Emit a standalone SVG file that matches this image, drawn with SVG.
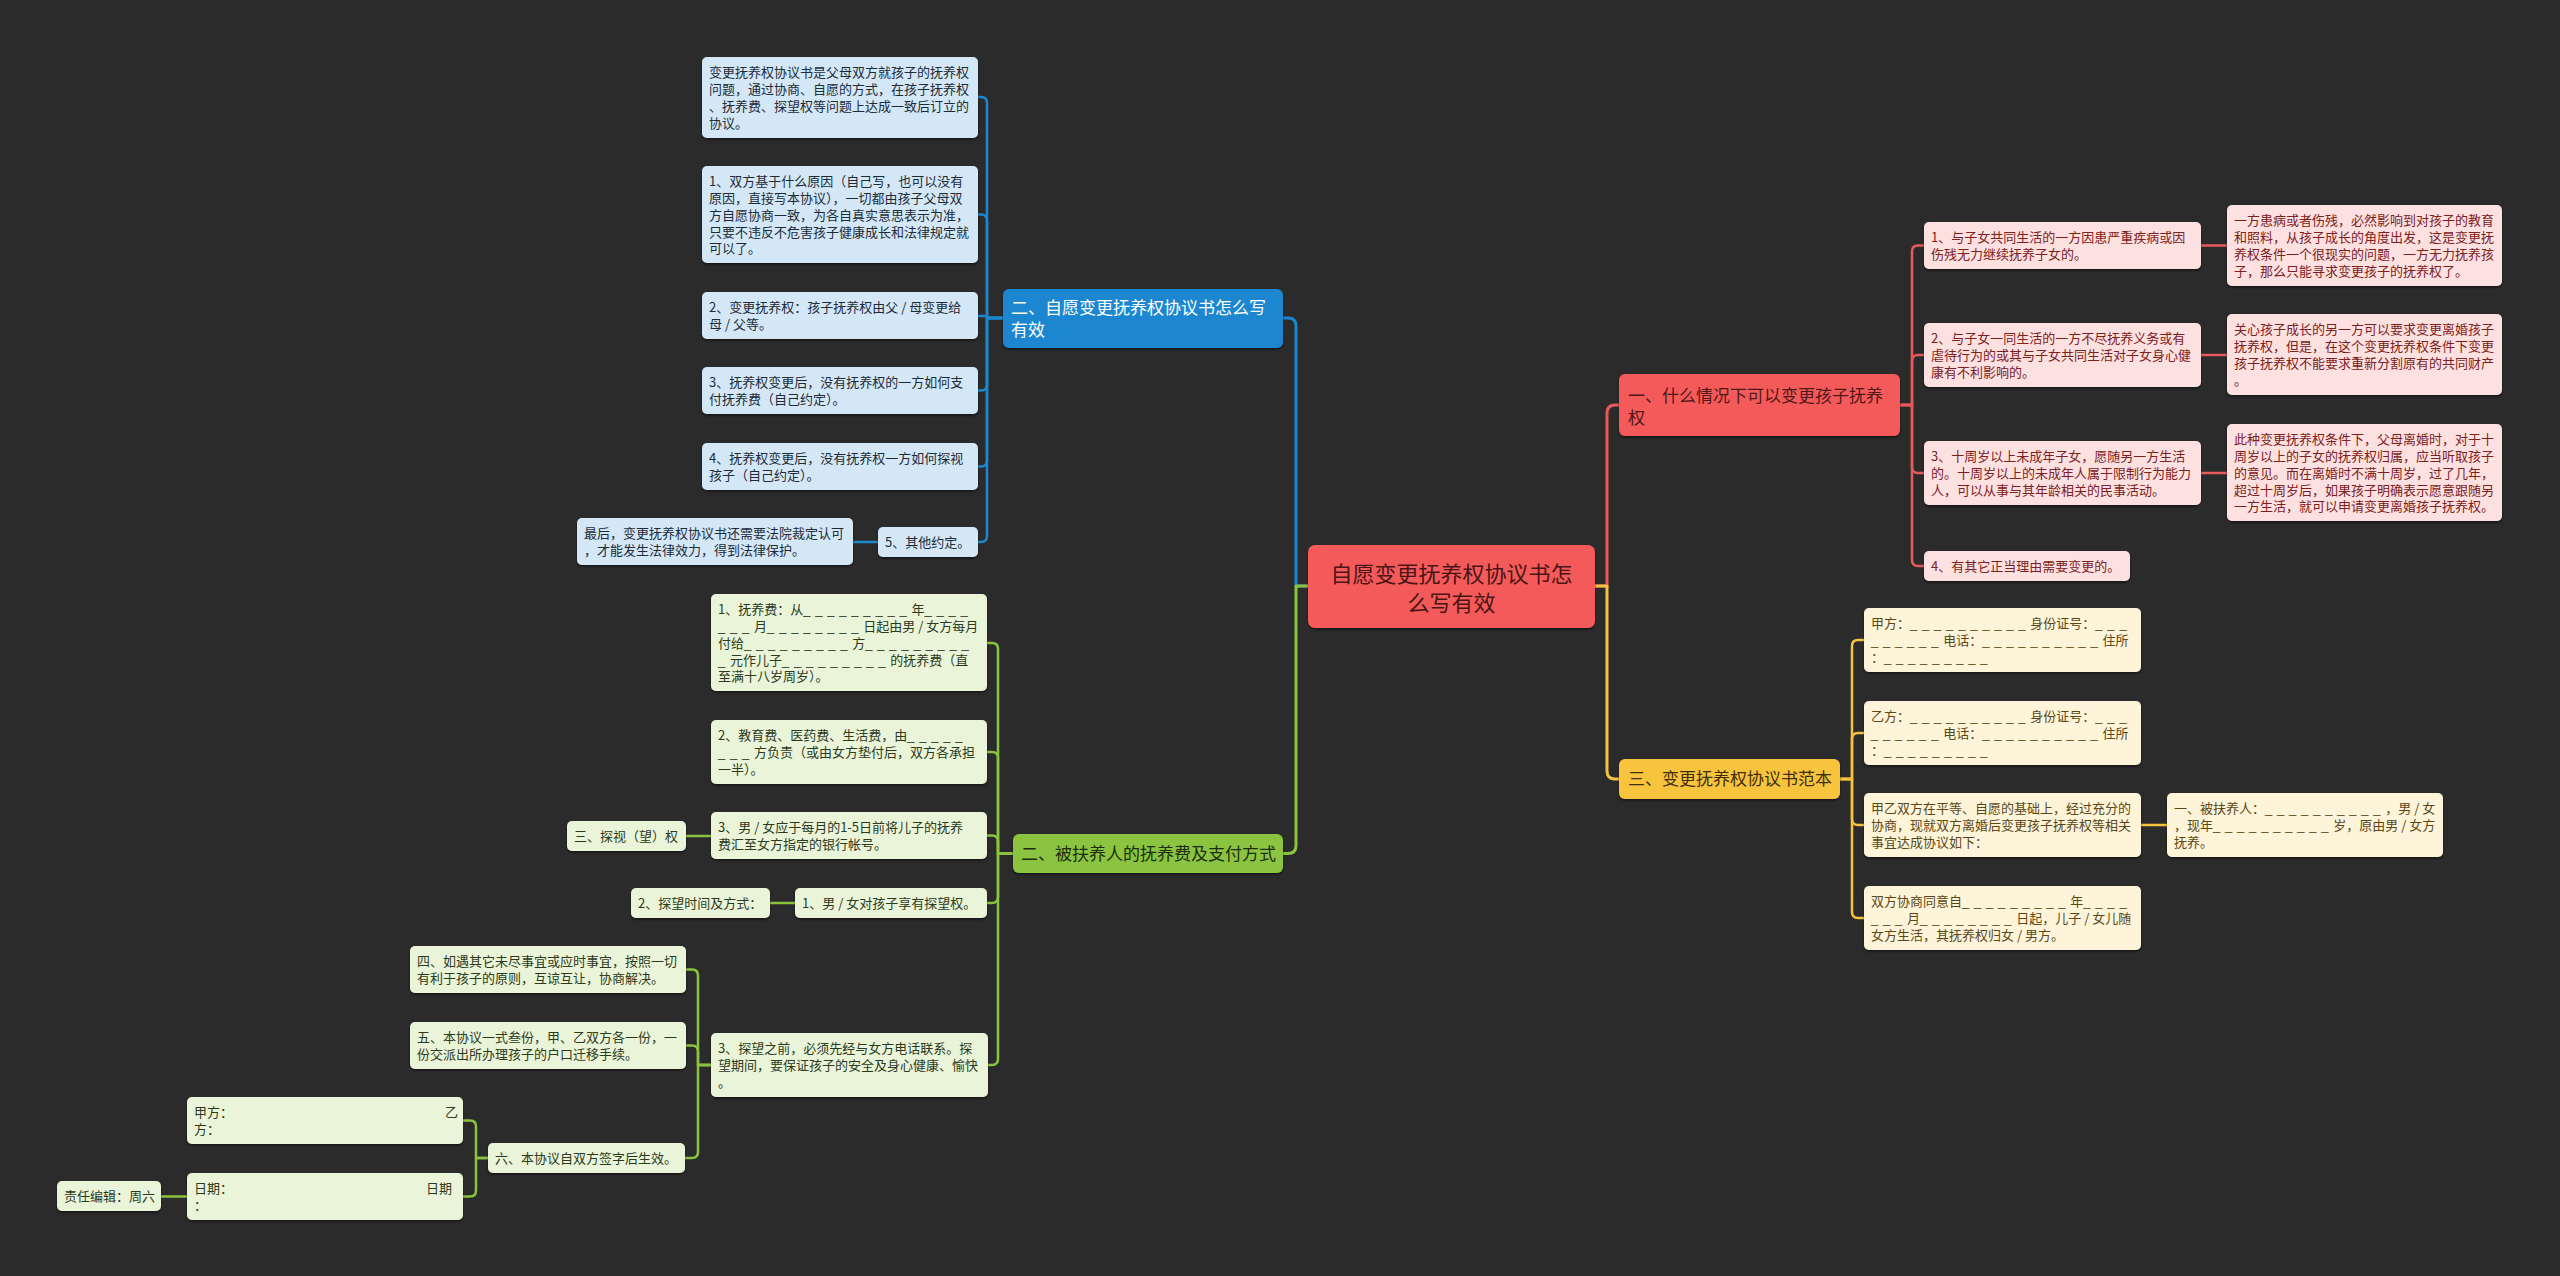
<svg xmlns="http://www.w3.org/2000/svg" width="2560" height="1276" viewBox="0 0 2560 1276">
<defs>
<filter id="sh" x="-5%" y="-10%" width="110%" height="130%">
<feDropShadow dx="0" dy="1.5" stdDeviation="1.2" flood-color="#000" flood-opacity="0.55"/>
</filter>
<style>
text{font-family:"Noto Sans CJK SC","Noto Sans",sans-serif;}
.lf{font-size:13px;}
.br{font-size:17px;}
.ct{font-size:22px;}
.u{font-family:"Liberation Sans",sans-serif;letter-spacing:4.8px;}
.node rect{filter:url(#sh);}
.c path{fill:none;stroke-width:2.5;stroke-linecap:round;stroke-linejoin:round;}
.cr{stroke:#e85a5a;} .cb{stroke:#1b87d0;} .cg{stroke:#8ac43f;} .cy{stroke:#f5c23e;}
.rL rect{fill:#fde1e1;} .rL text{fill:#7d2020;}
.bL rect{fill:#d3e7f6;} .bL text{fill:#1d2b38;}
.gL rect{fill:#eaf4d8;} .gL text{fill:#2b3a1c;}
.yL rect{fill:#fdf4d9;} .yL text{fill:#5b4716;}
</style>
</defs>
<rect x="0" y="0" width="2560" height="1276" fill="#2b2b2b"/>

<g id="connectors" class="c">
<path class="cb" style="stroke-width:3" d="M1308 586 H1296 V326 Q1296 318 1288 318 H1283"/>
<path class="cg" style="stroke-width:3" d="M1308 586 H1296 V845.5 Q1296 853.5 1288 853.5 H1283"/>
<path class="cr" style="stroke-width:3" d="M1595 586 H1607 V413 Q1607 405 1615 405 H1619"/>
<path class="cy" style="stroke-width:3" d="M1595 586 H1607 V771 Q1607 779 1615 779 H1619"/>

<path class="cb" d="M1003 318 H987 V103 Q987 97 981 97 H978"/>
<path class="cb" d="M1003 318 H987 V220.5 Q987 214.5 981 214.5 H978"/>
<path class="cb" d="M1003 318 H987 V316 H978"/>
<path class="cb" d="M1003 318 H987 V384.5 Q987 390.5 981 390.5 H978"/>
<path class="cb" d="M1003 318 H987 V460.5 Q987 466.5 981 466.5 H978"/>
<path class="cb" d="M1003 318 H987 V536 Q987 542 981 542 H978"/>
<path class="cb" d="M878 542 H853"/>

<path class="cg" d="M1013 853.5 H998 V649 Q998 643 992 643 H987"/>
<path class="cg" d="M1013 853.5 H998 V758 Q998 752 992 752 H987"/>
<path class="cg" d="M1013 853.5 H998 V841.5 Q998 835.5 992 835.5 H987"/>
<path class="cg" d="M1013 853.5 H998 V897 Q998 903 992 903 H987"/>
<path class="cg" d="M1013 853.5 H998 V1059 Q998 1065 992 1065 H988"/>
<path class="cg" d="M711 836 H686"/>
<path class="cg" d="M795 903 H770"/>
<path class="cg" d="M711 1065 H698 V975.5 Q698 969.5 692 969.5 H686"/>
<path class="cg" d="M711 1065 H698 V1051.5 Q698 1045.5 692 1045.5 H686"/>
<path class="cg" d="M711 1065 H698 V1152 Q698 1158 692 1158 H685"/>
<path class="cg" d="M488 1158 H476 V1126.5 Q476 1120.5 470 1120.5 H463"/>
<path class="cg" d="M488 1158 H476 V1190.5 Q476 1196.5 470 1196.5 H463"/>
<path class="cg" d="M187 1196.5 H161"/>

<path class="cr" d="M1900 405 H1912 V251.5 Q1912 245.5 1918 245.5 H1924"/>
<path class="cr" d="M1900 405 H1912 V361 Q1912 355 1918 355 H1924"/>
<path class="cr" d="M1900 405 H1912 V467 Q1912 473 1918 473 H1924"/>
<path class="cr" d="M1900 405 H1912 V560 Q1912 566 1918 566 H1924"/>
<path class="cr" d="M2201 245.5 H2227"/>
<path class="cr" d="M2201 355 H2227"/>
<path class="cr" d="M2201 473 H2227"/>

<path class="cy" d="M1840 779 H1852 V646 Q1852 640 1858 640 H1864"/>
<path class="cy" d="M1840 779 H1852 V739 Q1852 733 1858 733 H1864"/>
<path class="cy" d="M1840 779 H1852 V819 Q1852 825 1858 825 H1864"/>
<path class="cy" d="M1840 779 H1852 V912 Q1852 918 1858 918 H1864"/>
<path class="cy" d="M2141 825 H2167"/>
</g>

<!-- center -->
<g id="center" class="node">
<rect x="1308" y="545" width="287" height="83" rx="7" fill="#f55a5a"/>
<text class="ct" fill="#4a1515" text-anchor="middle"><tspan x="1451.5" y="581.5">自愿变更抚养权协议书怎</tspan><tspan x="1451.5" y="610.5">么写有效</tspan></text>
</g>

<!-- branches -->
<g id="branch-1" class="node">
<rect x="1619" y="374" width="281" height="62" rx="6" fill="#f55a5a"/>
<text class="br" fill="#4f1818"><tspan x="1628" y="402">一、什么情况下可以变更孩子抚养</tspan><tspan x="1628" y="424">权</tspan></text>
</g>
<g id="branch-2" class="node">
<rect x="1003" y="289" width="280" height="59" rx="6" fill="#1b87d0"/>
<text class="br" fill="#ffffff"><tspan x="1011" y="314">二、自愿变更抚养权协议书怎么写</tspan><tspan x="1011" y="336">有效</tspan></text>
</g>
<g id="branch-3" class="node">
<rect x="1619" y="759" width="221" height="40" rx="6" fill="#f8c33c"/>
<text class="br" fill="#3f2f0c"><tspan x="1628" y="785">三、变更抚养权协议书范本</tspan></text>
</g>
<g id="branch-4" class="node">
<rect x="1013" y="834" width="270" height="39" rx="6" fill="#8ac43f"/>
<text class="br" fill="#1d2e0e"><tspan x="1021" y="860">二、被扶养人的抚养费及支付方式</tspan></text>
</g>

<!-- blue leaves -->
<g id="b0" class="node lf bL"><rect x="702" y="57" width="276" height="81" rx="5"/>
<text><tspan x="709" y="77.1">变更抚养权协议书是父母双方就孩子的抚养权</tspan><tspan x="709" y="93.9">问题，通过协商、自愿的方式，在孩子抚养权</tspan><tspan x="709" y="110.7">、抚养费、探望权等问题上达成一致后订立的</tspan><tspan x="709" y="127.5">协议。</tspan></text></g>
<g id="b1" class="node lf bL"><rect x="702" y="166" width="276" height="97" rx="5"/>
<text><tspan x="709" y="186.1">1、双方基于什么原因（自己写，也可以没有</tspan><tspan x="709" y="202.9">原因，直接写本协议），一切都由孩子父母双</tspan><tspan x="709" y="219.7">方自愿协商一致，为各自真实意思表示为准，</tspan><tspan x="709" y="236.5">只要不违反不危害孩子健康成长和法律规定就</tspan><tspan x="709" y="253.3">可以了。</tspan></text></g>
<g id="b2" class="node lf bL"><rect x="702" y="292" width="276" height="47" rx="5"/>
<text><tspan x="709" y="312.1">2、变更抚养权：孩子抚养权由父 / 母变更给</tspan><tspan x="709" y="328.9">母 / 父等。</tspan></text></g>
<g id="b3" class="node lf bL"><rect x="702" y="367" width="276" height="47" rx="5"/>
<text><tspan x="709" y="387.1">3、抚养权变更后，没有抚养权的一方如何支</tspan><tspan x="709" y="403.9">付抚养费（自己约定）。</tspan></text></g>
<g id="b4" class="node lf bL"><rect x="702" y="443" width="276" height="47" rx="5"/>
<text><tspan x="709" y="463.1">4、抚养权变更后，没有抚养权一方如何探视</tspan><tspan x="709" y="479.9">孩子（自己约定）。</tspan></text></g>
<g id="b5" class="node lf bL"><rect x="878" y="527" width="100" height="30" rx="5"/>
<text><tspan x="885" y="547.1">5、其他约定。</tspan></text></g>
<g id="b5d" class="node lf bL"><rect x="577" y="518" width="276" height="47" rx="5"/>
<text><tspan x="584" y="538.1">最后，变更抚养权协议书还需要法院裁定认可</tspan><tspan x="584" y="554.9">，才能发生法律效力，得到法律保护。</tspan></text></g>

<!-- red leaves -->
<g id="r1" class="node lf rL"><rect x="1924" y="222" width="277" height="47" rx="5"/>
<text><tspan x="1931" y="242.1">1、与子女共同生活的一方因患严重疾病或因</tspan><tspan x="1931" y="258.9">伤残无力继续抚养子女的。</tspan></text></g>
<g id="r1d" class="node lf rL"><rect x="2227" y="205" width="275" height="81" rx="5"/>
<text><tspan x="2234" y="225.1">一方患病或者伤残，必然影响到对孩子的教育</tspan><tspan x="2234" y="241.9">和照料，从孩子成长的角度出发，这是变更抚</tspan><tspan x="2234" y="258.7">养权条件一个很现实的问题，一方无力抚养孩</tspan><tspan x="2234" y="275.5">子，那么只能寻求变更孩子的抚养权了。</tspan></text></g>
<g id="r2" class="node lf rL"><rect x="1924" y="323" width="277" height="64" rx="5"/>
<text><tspan x="1931" y="343.1">2、与子女一同生活的一方不尽抚养义务或有</tspan><tspan x="1931" y="359.9">虐待行为的或其与子女共同生活对子女身心健</tspan><tspan x="1931" y="376.7">康有不利影响的。</tspan></text></g>
<g id="r2d" class="node lf rL"><rect x="2227" y="314" width="275" height="81" rx="5"/>
<text><tspan x="2234" y="334.1">关心孩子成长的另一方可以要求变更离婚孩子</tspan><tspan x="2234" y="350.9">抚养权，但是，在这个变更抚养权条件下变更</tspan><tspan x="2234" y="367.7">孩子抚养权不能要求重新分割原有的共同财产</tspan><tspan x="2234" y="384.5">。</tspan></text></g>
<g id="r3" class="node lf rL"><rect x="1924" y="441" width="277" height="64" rx="5"/>
<text><tspan x="1931" y="461.1">3、十周岁以上未成年子女，愿随另一方生活</tspan><tspan x="1931" y="477.9">的。十周岁以上的未成年人属于限制行为能力</tspan><tspan x="1931" y="494.7">人，可以从事与其年龄相关的民事活动。</tspan></text></g>
<g id="r3d" class="node lf rL"><rect x="2227" y="424" width="275" height="97" rx="5"/>
<text><tspan x="2234" y="444.1">此种变更抚养权条件下，父母离婚时，对于十</tspan><tspan x="2234" y="460.9">周岁以上的子女的抚养权归属，应当听取孩子</tspan><tspan x="2234" y="477.7">的意见。而在离婚时不满十周岁，过了几年，</tspan><tspan x="2234" y="494.5">超过十周岁后，如果孩子明确表示愿意跟随另</tspan><tspan x="2234" y="511.3">一方生活，就可以申请变更离婚孩子抚养权。</tspan></text></g>
<g id="r4" class="node lf rL"><rect x="1924" y="551" width="206" height="30" rx="5"/>
<text><tspan x="1931" y="571.1">4、有其它正当理由需要变更的。</tspan></text></g>

<!-- yellow leaves -->
<g id="y1" class="node lf yL"><rect x="1864" y="608" width="277" height="64" rx="5"/>
<text><tspan x="1871" y="628.1">甲方：<tspan class="u">__________</tspan>身份证号：<tspan class="u">___</tspan></tspan><tspan x="1871" y="644.9"><tspan class="u">______</tspan>电话：<tspan class="u">__________</tspan>住所</tspan><tspan x="1871" y="661.7">：<tspan class="u">_________</tspan></tspan></text></g>
<g id="y2" class="node lf yL"><rect x="1864" y="701" width="277" height="64" rx="5"/>
<text><tspan x="1871" y="721.1">乙方：<tspan class="u">__________</tspan>身份证号：<tspan class="u">___</tspan></tspan><tspan x="1871" y="737.9"><tspan class="u">______</tspan>电话：<tspan class="u">__________</tspan>住所</tspan><tspan x="1871" y="754.7">：<tspan class="u">_________</tspan></tspan></text></g>
<g id="y3" class="node lf yL"><rect x="1864" y="793" width="277" height="64" rx="5"/>
<text><tspan x="1871" y="813.1">甲乙双方在平等、自愿的基础上，经过充分的</tspan><tspan x="1871" y="829.9">协商，现就双方离婚后变更孩子抚养权等相关</tspan><tspan x="1871" y="846.7">事宜达成协议如下：</tspan></text></g>
<g id="y3d" class="node lf yL"><rect x="2167" y="793" width="276" height="64" rx="5"/>
<text><tspan x="2174" y="813.1">一、被扶养人：<tspan class="u">__________</tspan>，男 / 女</tspan><tspan x="2174" y="829.9">，现年<tspan class="u">__________</tspan>岁，原由男 / 女方</tspan><tspan x="2174" y="846.7">抚养。</tspan></text></g>
<g id="y4" class="node lf yL"><rect x="1864" y="886" width="277" height="64" rx="5"/>
<text><tspan x="1871" y="906.1">双方协商同意自<tspan class="u">_________</tspan>年<tspan class="u">____</tspan></tspan><tspan x="1871" y="922.9"><tspan class="u">___</tspan>月<tspan class="u">________</tspan>日起，儿子 / 女儿随</tspan><tspan x="1871" y="939.7">女方生活，其抚养权归女 / 男方。</tspan></text></g>

<!-- green leaves -->
<g id="g1" class="node lf gL"><rect x="711" y="594" width="276" height="97" rx="5"/>
<text><tspan x="718" y="614.1">1、抚养费：从<tspan class="u">_________</tspan>年<tspan class="u">____</tspan></tspan><tspan x="718" y="630.9"><tspan class="u">___</tspan>月<tspan class="u">________</tspan>日起由男 / 女方每月</tspan><tspan x="718" y="647.7">付给<tspan class="u">_________</tspan>方<tspan class="u">_________</tspan></tspan><tspan x="718" y="664.5"><tspan class="u">_</tspan>元作儿子<tspan class="u">_________</tspan>的抚养费（直</tspan><tspan x="718" y="681.3">至满十八岁周岁）。</tspan></text></g>
<g id="g2" class="node lf gL"><rect x="711" y="720" width="276" height="64" rx="5"/>
<text><tspan x="718" y="740.1">2、教育费、医药费、生活费，由<tspan class="u">_____</tspan></tspan><tspan x="718" y="756.9"><tspan class="u">___</tspan>方负责（或由女方垫付后，双方各承担</tspan><tspan x="718" y="773.7">一半）。</tspan></text></g>
<g id="g3" class="node lf gL"><rect x="711" y="812" width="276" height="47" rx="5"/>
<text><tspan x="718" y="832.1">3、男 / 女应于每月的1-5日前将儿子的抚养</tspan><tspan x="718" y="848.9">费汇至女方指定的银行帐号。</tspan></text></g>
<g id="g3d" class="node lf gL"><rect x="567" y="821" width="119" height="30" rx="5"/>
<text><tspan x="574" y="841.1">三、探视（望）权</tspan></text></g>
<g id="g4" class="node lf gL"><rect x="795" y="888" width="192" height="30" rx="5"/>
<text><tspan x="802" y="908.1">1、男 / 女对孩子享有探望权。</tspan></text></g>
<g id="g4d" class="node lf gL"><rect x="631" y="888" width="139" height="30" rx="5"/>
<text><tspan x="638" y="908.1">2、探望时间及方式：</tspan></text></g>
<g id="g5" class="node lf gL"><rect x="711" y="1033" width="277" height="64" rx="5"/>
<text><tspan x="718" y="1053.1">3、探望之前，必须先经与女方电话联系。探</tspan><tspan x="718" y="1069.9">望期间，要保证孩子的安全及身心健康、愉快</tspan><tspan x="718" y="1086.7">。</tspan></text></g>
<g id="g5a" class="node lf gL"><rect x="410" y="946" width="276" height="47" rx="5"/>
<text><tspan x="417" y="966.1">四、如遇其它未尽事宜或应时事宜，按照一切</tspan><tspan x="417" y="982.9">有利于孩子的原则，互谅互让，协商解决。</tspan></text></g>
<g id="g5b" class="node lf gL"><rect x="410" y="1022" width="276" height="47" rx="5"/>
<text><tspan x="417" y="1042.1">五、本协议一式叁份，甲、乙双方各一份，一</tspan><tspan x="417" y="1058.9">份交派出所办理孩子的户口迁移手续。</tspan></text></g>
<g id="g5c" class="node lf gL"><rect x="488" y="1143" width="197" height="30" rx="5"/>
<text><tspan x="495" y="1163.1">六、本协议自双方签字后生效。</tspan></text></g>
<g id="g5c1" class="node lf gL"><rect x="187" y="1097" width="276" height="47" rx="5"/>
<text><tspan x="194" y="1117.1">甲方：</tspan><tspan x="445" y="1117.1">乙</tspan><tspan x="194" y="1133.9">方：</tspan></text></g>
<g id="g5c2" class="node lf gL"><rect x="187" y="1173" width="276" height="47" rx="5"/>
<text><tspan x="194" y="1193.1">日期：</tspan><tspan x="426" y="1193.1">日期</tspan><tspan x="194" y="1209.9">：</tspan></text></g>
<g id="g5c2a" class="node lf gL"><rect x="57" y="1181" width="104" height="30" rx="5"/>
<text><tspan x="64" y="1201.1">责任编辑：周六</tspan></text></g>
</svg>
